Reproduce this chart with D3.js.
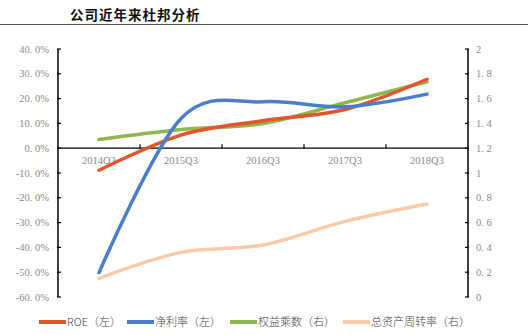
<!DOCTYPE html>
<html><head><meta charset="utf-8">
<script src="https://cdn.jsdelivr.net/npm/d3@7/dist/d3.min.js"></script>
<style>
html,body{margin:0;padding:0;background:#fff;}
svg{display:block;}
</style></head>
<body>
<svg id="c" width="528" height="335"></svg>
<script>
const title = "公司近年来杜邦分析";
const categories = ["2014Q3","2015Q3","2016Q3","2017Q3","2018Q3"];
const roe = [-8.9, 5.3, 11.1, 15.6, 27.8];          // % left
const netMargin = [-50.2, 12.0, 18.7, 16.7, 21.8];  // % left
const equityMult = [1.27, 1.35, 1.40, 1.566, 1.736]; // right
const assetTurn = [0.15, 0.36, 0.42, 0.61, 0.75];    // right
const leftTicks = [40,30,20,10,0,-10,-20,-30,-40,-50,-60];
const rightTicks = [2,1.8,1.6,1.4,1.2,1,0.8,0.6,0.4,0.2,0];
const legendNames = ["ROE（左）","净利率（左）","权益乘数（右）","总资产周转率（右）"];

const colors = ["#E2542A","#4A7DCB","#8DB94C","#F7CBA6"];

const svg = d3.select("#c");
const X0 = 58, X1 = 468, YT = 49, YB = 297;

const band = d3.scaleBand().domain(categories).range([X0, X1]);
const x = d3.scalePoint().domain(categories).range([X0, X1]).padding(0.5);
const yL = d3.scaleLinear().domain([-60, 40]).range([YB, YT]);
const yR = d3.scaleLinear().domain([0, 2]).range([YB, YT]);

// title
svg.append("text").attr("x", 70).attr("y", 20)
  .attr("font-family", "'Noto Sans CJK SC'").attr("font-size", 13.5).attr("font-weight", 700)
  .attr("fill", "#111").attr("letter-spacing", 1).text(title);
svg.append("line").attr("x1", 0).attr("x2", 528).attr("y1", 24.5).attr("y2", 24.5)
  .attr("stroke", "#555").attr("stroke-width", 1);

const tickFont = "'Liberation Serif','Noto Sans CJK SC'";
const tickColor = "#8a8a8a";

// left axis
const gL = svg.append("g");
gL.append("line").attr("x1", X0).attr("x2", X0).attr("y1", YT).attr("y2", YB)
  .attr("stroke", "#000").attr("stroke-width", 1.5);
leftTicks.forEach(v => {
  gL.append("line").attr("x1", X0 - 1).attr("x2", X0 + 3).attr("y1", yL(v)).attr("y2", yL(v))
    .attr("stroke", "#000").attr("stroke-width", 1.2);
  gL.append("text").attr("x", 49).attr("y", yL(v) + 3.5).attr("text-anchor", "end")
    .attr("font-family", tickFont).attr("font-size", 10.5).attr("fill", tickColor)
    .text(d3.format(".1f")(v).replace("-", "−").replace(".", ". ").replace("−","-") + "%");
});

// right axis
const gR = svg.append("g");
gR.append("line").attr("x1", X1).attr("x2", X1).attr("y1", YT).attr("y2", YB)
  .attr("stroke", "#000").attr("stroke-width", 1.5);
rightTicks.forEach(v => {
  gR.append("line").attr("x1", X1 - 3).attr("x2", X1 + 1).attr("y1", yR(v)).attr("y2", yR(v))
    .attr("stroke", "#000").attr("stroke-width", 1.2);
  gR.append("text").attr("x", 476).attr("y", yR(v) + 3.5).attr("text-anchor", "start")
    .attr("font-family", tickFont).attr("font-size", 10.5).attr("fill", tickColor)
    .text(String(v).replace(".", ". "));
});

// category axis at 0
const y0 = yL(0);
svg.append("line").attr("x1", X0).attr("x2", X1).attr("y1", y0).attr("y2", y0)
  .attr("stroke", "#000").attr("stroke-width", 1.3);
categories.slice(1).forEach(c => {
  svg.append("line").attr("x1", band(c)).attr("x2", band(c)).attr("y1", y0).attr("y2", y0 - 4)
    .attr("stroke", "#000").attr("stroke-width", 1.2);
});
categories.forEach(c => {
  svg.append("text").attr("x", x(c)).attr("y", y0 + 16).attr("text-anchor", "middle")
    .attr("font-family", tickFont).attr("font-size", 10.5).attr("fill", tickColor).text(c);
});

// lines
const curve = d3.curveCardinal.tension(0);
const series = [
  {vals: roe, y: yL},
  {vals: netMargin, y: yL},
  {vals: equityMult, y: yR},
  {vals: assetTurn, y: yR}
];
const drawOrder = [3, 2, 0, 1];
drawOrder.forEach(i => {
  const s = series[i];
  const line = d3.line().x((d, j) => x(categories[j])).y(d => s.y(d)).curve(curve);
  svg.append("path").attr("d", line(s.vals)).attr("fill", "none")
    .attr("stroke", colors[i]).attr("stroke-width", 3.5).attr("stroke-linecap", "round");
});

// legend
const legX = [39, 127, 230, 343];
legendNames.forEach((n, i) => {
  svg.append("line").attr("x1", legX[i]).attr("x2", legX[i] + 27).attr("y1", 322).attr("y2", 322)
    .attr("stroke", colors[i]).attr("stroke-width", 4);
  svg.append("text").attr("x", legX[i] + 28).attr("y", 326)
    .attr("font-family", "'Noto Sans CJK SC'").attr("font-size", 11).attr("font-weight", 300)
    .attr("fill", "#444").text(n);
});
</script>
</body></html>
